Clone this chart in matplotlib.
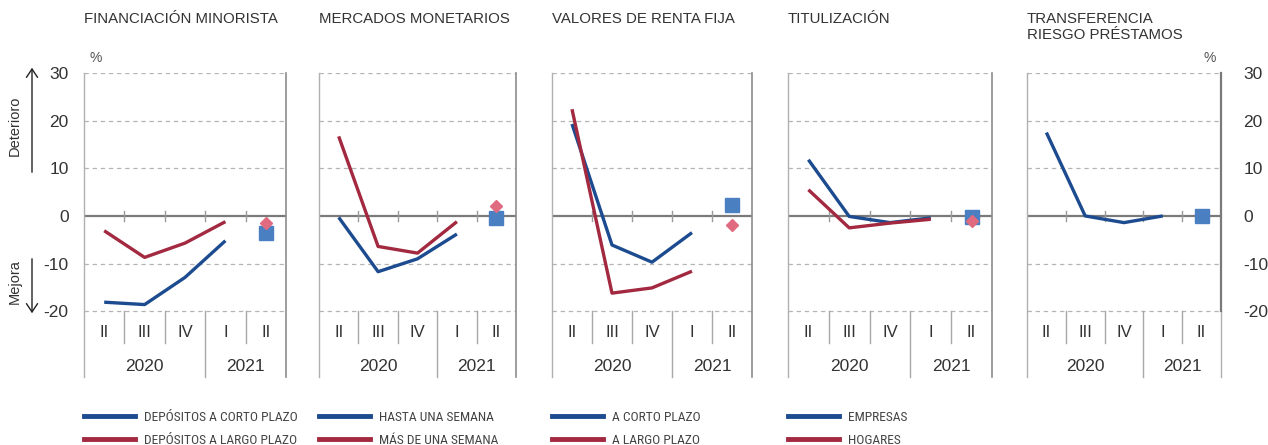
import matplotlib
matplotlib.use("Agg")
import numpy as np
from matplotlib import pyplot as plt
from matplotlib.lines import Line2D
from matplotlib.patches import FancyArrowPatch

# --- data ---------------------------------------------------------------
quarters = ["II", "III", "IV", "I", "II"]
years = ["2020", "2021"]

titles = [
    "FINANCIACIÓN MINORISTA",
    "MERCADOS MONETARIOS",
    "VALORES DE RENTA FIJA",
    "TITULIZACIÓN",
    "TRANSFERENCIA\nRIESGO PRÉSTAMOS",
]

# observed values, 2020-II .. 2021-I
blue_series = [
    [-18.1, -18.6, -12.9, -5.2],
    [-0.3, -11.7, -9.0, -3.8],
    [19.3, -6.1, -9.7, -3.5],
    [11.8, -0.1, -1.4, -0.4],
    [17.5, 0.0, -1.4, 0.0],
]
red_series = [
    [-3.1, -8.7, -5.7, -1.2],
    [16.7, -6.4, -7.8, -1.2],
    [22.4, -16.2, -15.1, -11.6],
    [5.5, -2.5, -1.5, -0.7],
    None,
]
# expected values, 2021-II
blue_expected = [-3.6, -0.5, 2.2, -0.3, 0.0]
red_expected = [-1.4, 2.0, -1.9, -1.0, None]

legend_labels = [
    ("DEPÓSITOS A CORTO PLAZO", "DEPÓSITOS A LARGO PLAZO"),
    ("HASTA UNA SEMANA", "MÁS DE UNA SEMANA"),
    ("A CORTO PLAZO", "A LARGO PLAZO"),
    ("EMPRESAS", "HOGARES"),
    None,
]

yticks = [-20, -10, 0, 10, 20, 30]

# --- style --------------------------------------------------------------
BLUE = "#1d4b8f"
RED = "#a2293f"
SQUARE = "#4a7fc2"
DIAMOND = "#e06b80"
GRID = "#b4b4b4"
TEXT = "#333333"
CONDENSED = ["Roboto Condensed", "Archivo Narrow", "Sofia Sans Condensed",
             "Barlow Condensed", "DejaVu Sans"]

plt.rcParams["font.family"] = ["Liberation Sans", "DejaVu Sans"]

W, H = 1268, 445
fig = plt.figure(figsize=(W / 100, H / 100), dpi=100)

lefts = [84, 319, 552, 788, 1027]
rights = [286, 516, 752, 992, 1221]
top_px, bottom_px = 73, 377
y_bottom = -33.8  # lower limit, leaves room for the category labels

for i in range(5):
    l, r = lefts[i], rights[i]
    ax = fig.add_axes([l / W, 1 - bottom_px / H, (r - l) / W, (bottom_px - top_px) / H])
    ax.set_xlim(-0.5, 4.5)
    ax.set_ylim(y_bottom, 30)

    for s in ["top", "bottom"]:
        ax.spines[s].set_visible(False)
    ax.spines["left"].set_color("#b0b0b0")
    ax.spines["left"].set_linewidth(1.0)
    ax.spines["right"].set_color("#8c8c8c")
    ax.spines["right"].set_linewidth(1.2)

    # grid
    for g in yticks:
        if g == 0:
            ax.axhline(0, color="#7a7a7a", lw=1.6, zorder=1)
        else:
            ax.axhline(g, color=GRID, lw=0.9, ls=(0, (3.5, 3)), zorder=1)

    # small ticks on the zero line and category separators
    for xs in [0.5, 1.5, 2.5, 3.5]:
        ax.plot([xs, xs], [-1.1, 1.1], color="#9a9a9a", lw=1.0, zorder=1)
        lo = y_bottom if xs == 2.5 else -26.7
        ax.plot([xs, xs], [-20, lo], color="#a8a8a8", lw=1.0, zorder=1,
                clip_on=False)

    for k, q in enumerate(quarters):
        ax.text(k, -24.4, q, ha="center", va="center", fontsize=12,
                color=TEXT)
    ax.text(1, -31.7, years[0], ha="center", va="center", fontsize=12.5,
            color=TEXT)
    ax.text(3.5, -31.7, years[1], ha="center", va="center", fontsize=12.5,
            color=TEXT)

    x_obs = np.arange(4)
    ax.plot(x_obs, blue_series[i], color=BLUE, lw=2.4, zorder=3,
            solid_capstyle="butt")
    if red_series[i] is not None:
        ax.plot(x_obs, red_series[i], color=RED, lw=2.4, zorder=3,
                solid_capstyle="butt")
    ax.plot([4], [blue_expected[i]], marker="s", ms=9.5, color=SQUARE,
            ls="none", zorder=4)
    if red_expected[i] is not None:
        ax.plot([4], [red_expected[i]], marker="D", ms=6.5, color=DIAMOND,
                ls="none", zorder=5)

    ax.set_xticks([])
    ax.set_yticks(yticks)
    ax.set_yticklabels([str(v) for v in yticks])
    ax.tick_params(axis="y", length=0, labelsize=12.5, colors=TEXT, pad=11)
    if i == 0:
        ax.tick_params(axis="y", left=False, labelleft=True, right=False,
                       labelright=False)
        ax.text(0.025, 1.025, "%", transform=ax.transAxes, ha="left",
                va="bottom", fontsize=10, color="#555555")
    elif i == 4:
        ax.tick_params(axis="y", left=False, labelleft=False, right=False,
                       labelright=True, pad=16)
        ax.spines["right"].set_bounds(-20, 30)
        ax.spines["right"].set_color("#7a7a7a")
        ax.spines["right"].set_linewidth(1.6)
        ax.plot([4.5, 4.5], [-20, y_bottom], color="#b0b0b0", lw=1.0,
                clip_on=False)
        ax.text(0.975, 1.025, "%", transform=ax.transAxes, ha="right",
                va="bottom", fontsize=10, color="#555555")
    else:
        ax.tick_params(axis="y", labelleft=False, labelright=False)

    ax.text(0, 1 + (top_px - 12) / (bottom_px - top_px), titles[i],
            transform=ax.transAxes, ha="left", va="top", fontsize=10.8,
            color=TEXT, linespacing=1.2)

    if legend_labels[i] is not None:
        handles = [Line2D([], [], color=BLUE, lw=3.5),
                   Line2D([], [], color=RED, lw=3.5)]
        ax.legend(handles, legend_labels[i], loc="upper left",
                  bbox_to_anchor=(0, -0.112), frameon=False, borderpad=0,
                  borderaxespad=0, handlelength=3.8, handletextpad=0.65,
                  labelspacing=0.75,
                  prop={"family": CONDENSED, "size": 9.7},
                  labelcolor="#444444")

# Deterioro / Mejora arrows
fig.text(15 / W, 1 - 126 / H, "Deterioro", rotation=90, ha="center",
         va="center", fontsize=10.5, color=TEXT)
fig.text(15 / W, 1 - 282 / H, "Mejora", rotation=90, ha="center",
         va="center", fontsize=10.5, color=TEXT)
fig.patches.append(FancyArrowPatch(
    (32 / W, 1 - 175 / H), (32 / W, 1 - 65 / H), transform=fig.transFigure,
    arrowstyle="->,head_length=6,head_width=4", color="#222222", lw=1.0,
    mutation_scale=1))
fig.patches.append(FancyArrowPatch(
    (32 / W, 1 - 256 / H), (32 / W, 1 - 316 / H), transform=fig.transFigure,
    arrowstyle="->,head_length=6,head_width=4", color="#222222", lw=1.0,
    mutation_scale=1))

fig.savefig("out.png", dpi=100)
